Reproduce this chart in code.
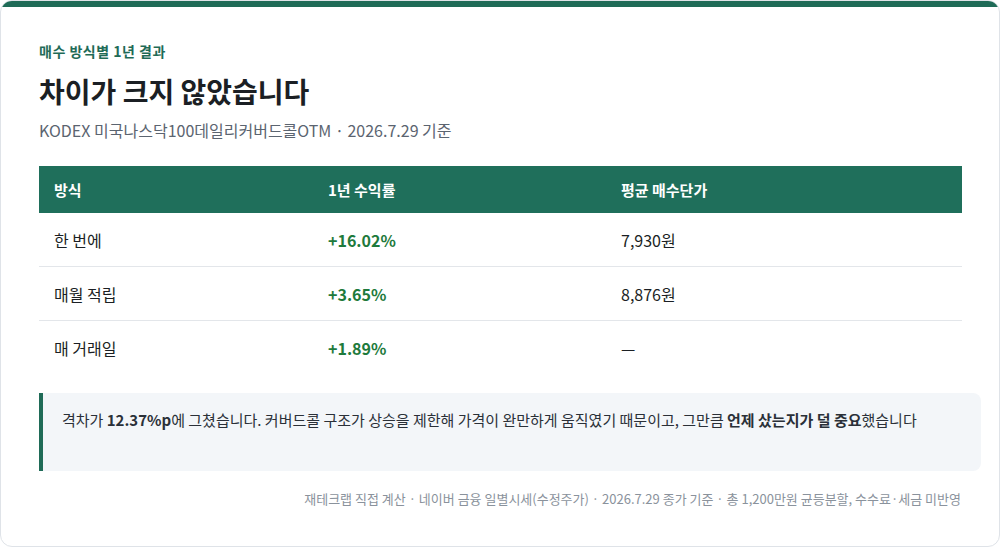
<!DOCTYPE html>
<html><head><meta charset="utf-8">
<script src="https://cdn.jsdelivr.net/npm/chart.js@4"></script>
<style>
body{margin:0;background:#fff;font-family:"Noto Sans CJK KR","Noto Sans",sans-serif;}
.card{position:absolute;left:0;top:0;width:998px;height:545px;border:1px solid #dfe3e8;border-radius:12px;overflow:hidden;background:#fff;}
.bar{height:6px;background:#1f6b57;}
.eyebrow{position:absolute;left:38px;top:40px;font-size:14px;font-weight:700;color:#1f6b57;letter-spacing:0.5px;}
.title{position:absolute;left:38px;top:70px;font-size:28px;font-weight:700;color:#1b1f24;}
.sub{position:absolute;left:38px;top:117px;font-size:16px;color:#5b6470;}
table{position:absolute;left:38px;top:165px;width:923px;border-collapse:collapse;font-size:16px;color:#1b1f24;}
th{background:#1f6f5b;color:#fff;text-align:left;font-weight:700;height:47px;padding:0 0 0 15px;font-size:15px;}
td{height:53px;padding:0 0 0 15px;border-bottom:1px solid #e3e6ea;}
tr:last-child td{border-bottom:none;}
td.ret{color:#1e7a3c;font-weight:700;}
.note{position:absolute;left:38px;top:392px;width:882px;height:78px;background:#f3f6f9;border-left:4px solid #1f6b57;border-radius:0 8px 8px 0;padding:14px 20px 0 19px;box-sizing:content-box;font-size:15px;line-height:26px;color:#2a3038;}
.note{width:899px;height:64px;}
.foot{position:absolute;right:38px;top:488px;font-size:13px;color:#8a929c;}
</style></head><body>
<div class="card">
<div class="bar"></div>
<div class="eyebrow">매수 방식별 1년 결과</div>
<div class="title">차이가 크지 않았습니다</div>
<div class="sub">KODEX 미국나스닥100데일리커버드콜OTM · 2026.7.29 기준</div>
<table id="t"></table>
<div class="note">격차가 <b>12.37%p</b>에 그쳤습니다. 커버드콜 구조가 상승을 제한해 가격이 완만하게 움직였기 때문이고, 그만큼 <b>언제 샀는지가 덜 중요</b>했습니다</div>
<div class="foot">재테크랩 직접 계산 · 네이버 금융 일별시세(수정주가) · 2026.7.29 종가 기준 · 총 1,200만원 균등분할, 수수료·세금 미반영</div>
</div>
<script>
const headers = ['방식', '1년 수익률', '평균 매수단가'];
const methods = ['한 번에', '매월 적립', '매 거래일'];
const returns = ['+16.02%', '+3.65%', '+1.89%'];
const avgPrices = ['7,930원', '8,876원', '—'];
const t = document.getElementById('t');
let html = '<tr><th style="width:259px">' + headers[0] + '</th><th style="width:278px">' + headers[1] + '</th><th>' + headers[2] + '</th></tr>';
methods.forEach((m, i) => {
  html += '<tr><td>' + m + '</td><td class="ret">' + returns[i] + '</td><td>' + avgPrices[i] + '</td></tr>';
});
t.innerHTML = html;
</script>
</body></html>
